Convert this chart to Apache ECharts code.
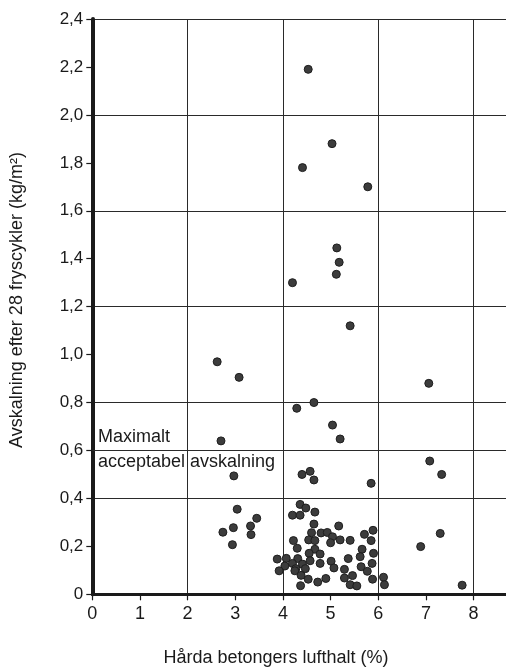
<!DOCTYPE html>
<html>
<head>
<meta charset="utf-8">
<script src="https://cdn.jsdelivr.net/npm/echarts@6/dist/echarts.min.js"></script>
<style>
html,body{margin:0;padding:0;background:#fff;}
#chart{width:506px;height:667px;}
</style>
</head>
<body>
<div id="chart"></div>
<script>
// Air content of hardened concrete (%)
const airContent = [
  4.53, 5.03, 4.41, 5.78, 5.13, 5.18, 5.12, 4.20, 5.41, 2.62,
  3.08, 7.06, 4.29, 4.65, 5.04, 5.20, 2.70, 7.08, 7.33, 4.40,
  4.57, 4.65, 2.97, 5.85, 7.30, 6.89, 7.76, 3.04, 3.45, 2.74,
  2.96, 3.32, 3.33, 2.94,
  4.36, 4.48, 4.20, 4.36, 4.67, 4.65, 4.60, 4.80, 4.93, 4.22,
  4.54, 4.67, 4.30, 4.67, 4.55, 4.78, 3.88, 4.07, 4.31, 4.57,
  4.20, 4.41, 4.04, 4.27, 4.47, 4.78, 3.92, 4.25, 4.38, 4.53,
  4.73, 4.90, 4.37,
  5.17, 5.04, 5.00, 5.20, 5.41, 5.71, 5.89, 5.85, 5.66, 5.90,
  5.62, 5.37, 5.01, 5.07, 5.64, 5.77, 5.87, 5.29, 5.46, 5.29,
  5.88, 6.11, 6.13, 5.41, 5.55
];
// Scaling after 28 freeze cycles (kg/m2)
const scaling = [
  2.19, 1.88, 1.78, 1.70, 1.445, 1.385, 1.335, 1.30, 1.12, 0.97,
  0.905, 0.88, 0.776, 0.80, 0.706, 0.648, 0.64, 0.556, 0.50, 0.50,
  0.513, 0.477, 0.494, 0.463, 0.254, 0.199, 0.038, 0.355, 0.317, 0.259,
  0.278, 0.285, 0.249, 0.207,
  0.375, 0.36, 0.33, 0.33, 0.343, 0.293, 0.257, 0.256, 0.258, 0.224,
  0.227, 0.224, 0.192, 0.188, 0.171, 0.168, 0.147, 0.150, 0.149, 0.140,
  0.129, 0.126, 0.118, 0.107, 0.107, 0.129, 0.098, 0.098, 0.079, 0.063,
  0.051, 0.066, 0.036,
  0.285, 0.240, 0.215, 0.227, 0.225, 0.250, 0.267, 0.224, 0.188, 0.171,
  0.157, 0.149, 0.138, 0.110, 0.115, 0.096, 0.129, 0.104, 0.078, 0.068,
  0.063, 0.071, 0.040, 0.040, 0.035
];
const limitValue = 0.6;
const xTitle = 'Hårda betongers lufthalt (%)';
const yTitle = 'Avskalning efter 28 fryscykler (kg/m²)';
const limitLabelTop = 'Maximalt';
const limitLabelBottom = 'acceptabel avskalning';

const points = airContent.map((x, i) => [x, scaling[i]]);
const FONT = '"Liberation Sans", Arial, Helvetica, sans-serif';
const ink = '#1a1a1a';

const chart = echarts.init(document.getElementById('chart'), null, {renderer: 'canvas'});
chart.setOption({
  animation: false,
  backgroundColor: '#ffffff',
  grid: {left: 92.3, top: 19, right: 0, bottom: 72.7, containLabel: false},
  xAxis: [
    {
      type: 'value', min: 0, max: 8.68, interval: 1,
      axisLine: {show: true, onZero: false, lineStyle: {color: ink, width: 3}},
      axisTick: {show: true, length: 6, lineStyle: {color: ink, width: 1.2}},
      axisLabel: {show: true, fontSize: 18, color: ink, fontFamily: FONT, margin: 11,
        showMaxLabel: false,
        formatter: v => (Math.abs(v - Math.round(v)) < 1e-6 ? String(Math.round(v)) : '')},
      splitLine: {show: false}
    },
    {
      type: 'value', min: 0, max: 8.68, interval: 2, position: 'bottom',
      axisLine: {show: false}, axisTick: {show: false}, axisLabel: {show: false},
      splitLine: {show: true, lineStyle: {color: '#2a2a2a', width: 1}}
    }
  ],
  yAxis: [
    {
      type: 'value', min: 0, max: 2.4, interval: 0.2,
      axisLine: {show: true, onZero: false, lineStyle: {color: ink, width: 4}},
      axisTick: {show: true, length: 6, lineStyle: {color: ink, width: 1.2}},
      axisLabel: {show: true, fontSize: 17, color: ink, fontFamily: FONT, margin: 9,
        formatter: v => (Math.abs(v) < 1e-9 ? '0' : v.toFixed(1).replace('.', ','))},
      splitLine: {show: false}
    },
    {
      type: 'value', min: 0, max: 2.4, interval: 0.4, position: 'left',
      axisLine: {show: false}, axisTick: {show: false}, axisLabel: {show: false},
      splitLine: {show: true, lineStyle: {color: '#2a2a2a', width: 1}}
    }
  ],
  series: [{
    type: 'scatter',
    xAxisIndex: 0, yAxisIndex: 0,
    data: points,
    symbol: 'circle',
    symbolSize: 8,
    itemStyle: {color: '#3c3c3c', borderColor: '#1e1e1e', borderWidth: 1, opacity: 1},
    markLine: {
      silent: true, symbol: 'none', animation: false,
      label: {show: false},
      lineStyle: {color: '#2a2a2a', width: 1.2, type: 'solid'},
      data: [{yAxis: limitValue}]
    },
    z: 5
  }],
  graphic: [
    {type: 'text', left: 98, top: 428, style: {text: limitLabelTop, font: '18px ' + FONT, fill: ink}},
    {type: 'text', left: 98, top: 453, style: {text: limitLabelBottom, font: '18px ' + FONT, fill: ink}},
    {type: 'text', x: 276, y: 658, style: {text: xTitle, font: '18px ' + FONT, fill: ink, textAlign: 'center', textVerticalAlign: 'middle'}},
    {type: 'text', x: 17, y: 300, rotation: Math.PI / 2, style: {text: yTitle, font: '18px ' + FONT, fill: ink, textAlign: 'center', textVerticalAlign: 'middle'}}
  ]
});
</script>
</body>
</html>
